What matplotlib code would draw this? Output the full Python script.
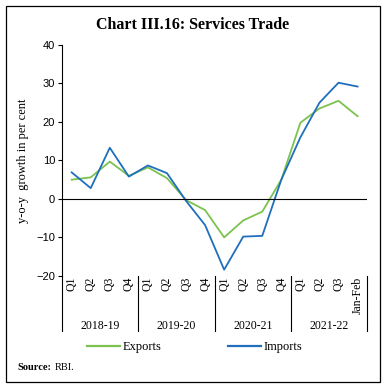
import matplotlib
matplotlib.use("Agg")
import matplotlib.pyplot as plt
from matplotlib.patches import Rectangle
from matplotlib.lines import Line2D

# data
quarters = ["Q1", "Q2", "Q3", "Q4", "Q1", "Q2", "Q3", "Q4",
            "Q1", "Q2", "Q3", "Q4", "Q1", "Q2", "Q3", "Jan-Feb"]
years = ["2018-19", "2019-20", "2020-21", "2021-22"]
exports = [5.0, 5.6, 9.7, 6.0, 8.2, 5.4, -0.3, -2.9,
           -10.0, -5.6, -3.3, 5.0, 19.8, 23.5, 25.5, 21.5]
imports = [6.9, 2.8, 13.3, 5.8, 8.7, 6.7, -0.5, -6.8,
           -18.4, -9.8, -9.6, 5.0, 16.0, 25.0, 30.2, 29.2]

GREEN = "#7cc24e"
BLUE = "#1f6fbd"
SERIF = "Liberation Serif"

plt.rcParams["font.family"] = SERIF

fig = plt.figure(figsize=(3.86, 3.88), dpi=100)
ax = fig.add_axes([0.161, 0.289, 0.79, 0.595])

x = list(range(len(quarters)))
ax.plot(x, exports, color=GREEN, lw=1.3)
ax.plot(x, imports, color=BLUE, lw=1.3)
ax.axhline(0, color="black", lw=0.8)

ax.set_xlim(-0.5, 15.5)
ax.set_ylim(-20, 40)
ax.set_yticks([-20, -10, 0, 10, 20, 30, 40])
ax.tick_params(axis="y", length=3, width=0.8, labelsize=8, pad=2)
for lab in ax.get_yticklabels():
    lab.set_family("Liberation Sans")
ax.set_ylabel("y-o-y  growth in per cent", fontsize=9, labelpad=5)

for s in ["top", "right", "bottom"]:
    ax.spines[s].set_visible(False)
ax.spines["left"].set_linewidth(0.8)

# category labels inside the band under the plot
ax.set_xticks([])
for i, q in enumerate(quarters):
    ax.text(i, -20.2, q, rotation=90, ha="center", va="top", fontsize=8.5)

# group separators and year labels
for k in range(len(years) + 1):
    xs = -0.5 + 4 * k
    ax.add_line(Line2D([xs, xs], [-20, -34.3], color="black", lw=0.8,
                       clip_on=False))
for k, yr in enumerate(years):
    ax.text(1.5 + 4 * k, -33, yr, ha="center", va="center", fontsize=8.5)

fig.text(0.5, 0.935, "Chart III.16: Services Trade", ha="center",
         va="center", fontsize=11.5, fontweight="bold")

handles = [Line2D([], [], color=GREEN, lw=1.6),
           Line2D([], [], color=BLUE, lw=1.6)]
fig.legend(handles, ["Exports", "Imports"], loc="center",
           bbox_to_anchor=(0.505, 0.105), ncol=2, frameon=False,
           fontsize=9, handlelength=2.6, handletextpad=0.25,
           columnspacing=5.3)

fig.text(0.044, 0.052, "Source:", fontsize=7.5, fontweight="bold",
         va="center")
fig.text(0.142, 0.052, "RBI.", fontsize=7.5, va="center")

fig.add_artist(Rectangle((0.016, 0.016), 0.968, 0.968, fill=False,
                         edgecolor="black", lw=0.9,
                         transform=fig.transFigure))

fig.savefig("out.png", dpi=100)
